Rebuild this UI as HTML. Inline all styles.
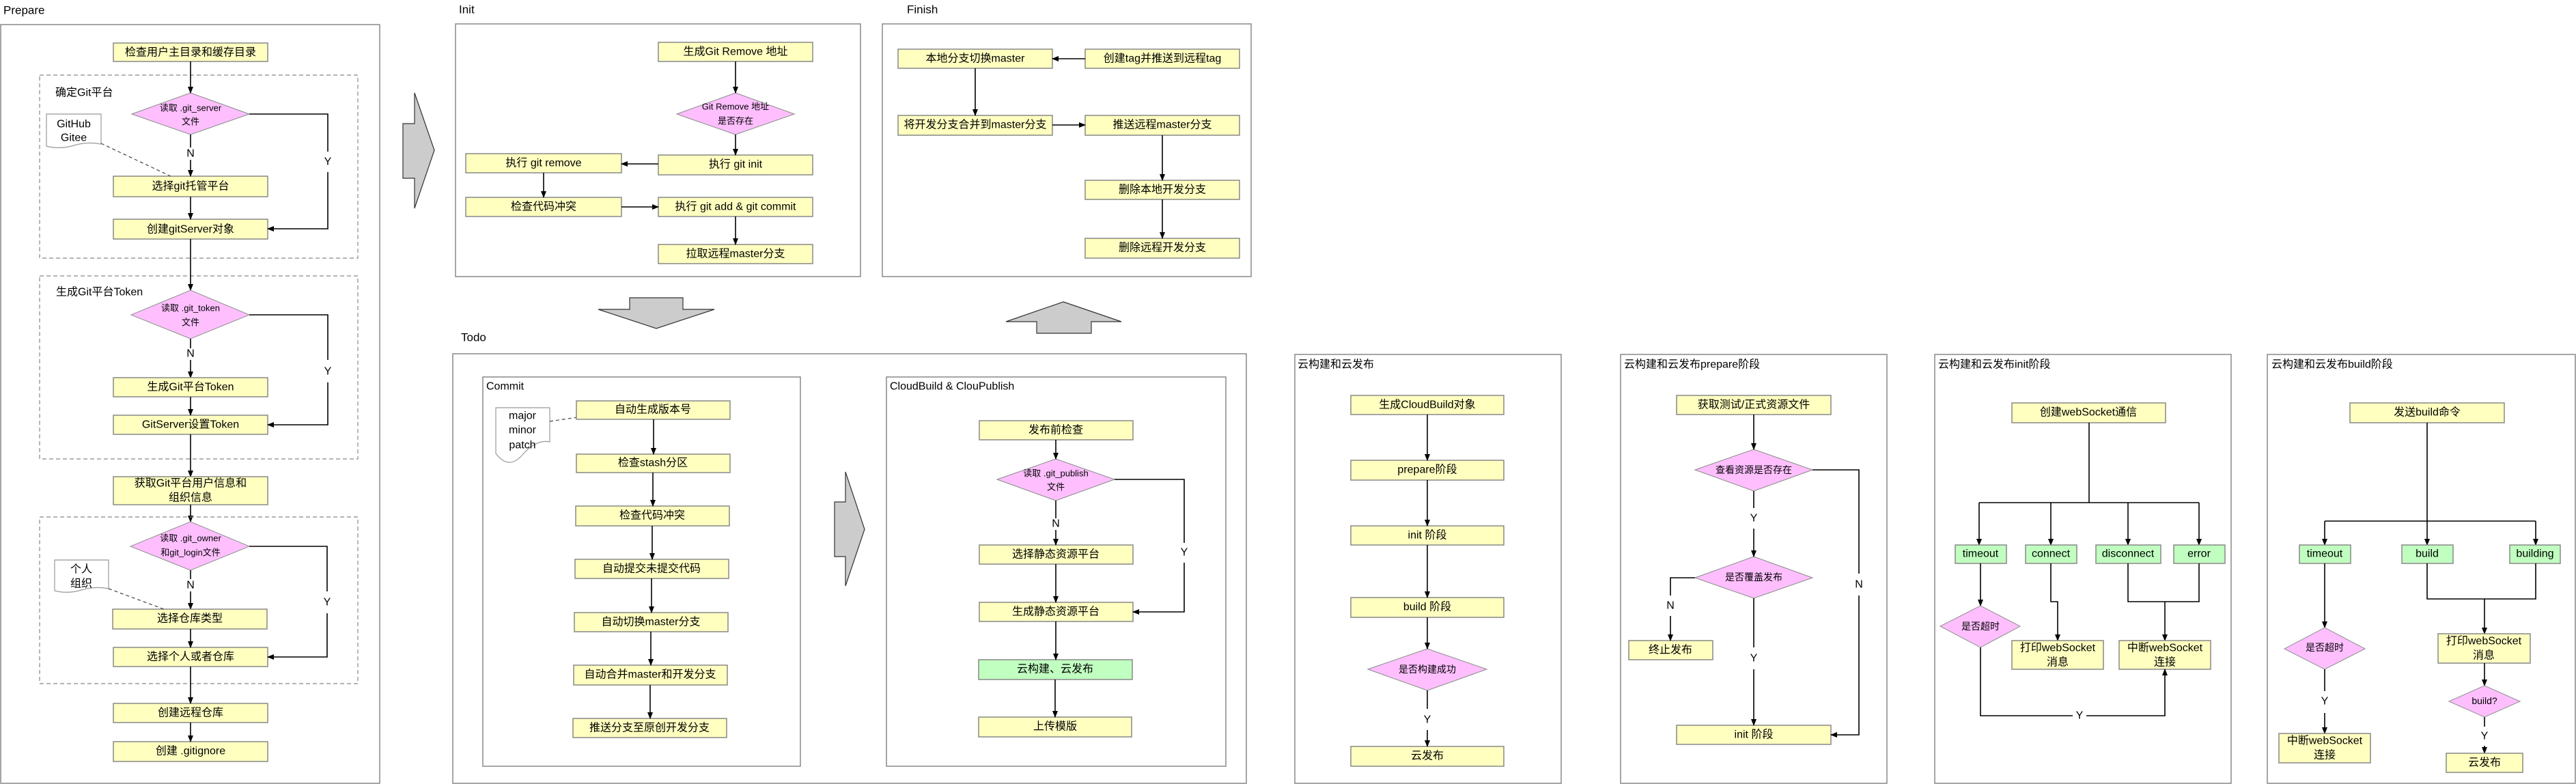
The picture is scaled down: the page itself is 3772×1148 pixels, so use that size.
<!DOCTYPE html>
<html><head><meta charset="utf-8"><style>
html,body{margin:0;padding:0;background:#fff;}
svg{display:block;}
text{font-family:"Liberation Sans","Noto Sans CJK SC",sans-serif;fill:#000;}
.t{font-size:16px;text-anchor:middle;dominant-baseline:central;}
.s{font-size:13px;text-anchor:middle;dominant-baseline:central;}
.h{font-size:17px;dominant-baseline:central;}
.y{fill:#ffffc0;stroke:#888;stroke-width:1.5;}
.g{fill:#c0ffc0;stroke:#888;stroke-width:1.5;}
.p{fill:#ffbfff;stroke:#999;stroke-width:1.2;}
.f{fill:none;stroke:#888;stroke-width:1.5;}
.d{fill:none;stroke:#888;stroke-width:1.2;stroke-dasharray:6 4;}
.l{fill:none;stroke:#000;stroke-width:1.6;}
.a{fill:none;stroke:#000;stroke-width:1.6;marker-end:url(#ah);}
.dl{fill:none;stroke:#444;stroke-width:1.2;stroke-dasharray:5 4;}
.big{fill:#cccccc;stroke:#333;stroke-width:1.2;}
.n{fill:#fff;stroke:#999;stroke-width:1.2;}
</style></head><body>
<svg width="3772" height="1148" viewBox="0 0 3772 1148" xmlns="http://www.w3.org/2000/svg">
<defs><marker id="ah" markerWidth="10" markerHeight="10" refX="9" refY="5" orient="auto" markerUnits="userSpaceOnUse"><path d="M0,1 L10,5 L0,9 Z" fill="#000"/></marker></defs>

<!-- ===== Prepare ===== -->
<text class="h" x="5" y="15">Prepare</text>
<rect class="f" x="1" y="36" width="555" height="1111"/>
<rect class="y" x="166" y="63" width="226" height="27"/><text class="t" x="279" y="77">检查用户主目录和缓存目录</text>
<rect class="d" x="58" y="110" width="466" height="268"/>
<text class="h" x="81" y="136" style="font-size:16px">确定Git平台</text>
<polygon class="p" points="193,167 279,136 365,167 279,197"/>
<text class="s" x="279" y="158">读取 .git_server</text><text class="s" x="279" y="178">文件</text>
<path class="n" d="M68,167 H148 V211 Q128,207 108,213 T68,214 Z"/>
<text class="t" x="108" y="182">GitHub</text><text class="t" x="108" y="202">Gitee</text>
<rect class="y" x="166" y="258" width="226" height="30"/><text class="t" x="279" y="273">选择git托管平台</text>
<rect class="y" x="166" y="321" width="226" height="29"/><text class="t" x="279" y="336">创建gitServer对象</text>
<path class="a" d="M279,90 V136"/>
<path class="l" d="M279,197 V216"/><text class="t" x="279" y="225">N</text><path class="a" d="M279,234 V258"/>
<path class="a" d="M279,288 V321"/>
<path class="l" d="M365,167 H480 V222"/><text class="t" x="480" y="237">Y</text><path class="a" d="M480,252 V335 H392"/>
<path class="dl" d="M148,210 L250,258"/>

<rect class="d" x="58" y="404" width="466" height="268"/>
<text class="h" x="82" y="428" style="font-size:16px">生成Git平台Token</text>
<path class="a" d="M279,350 V425"/>
<polygon class="p" points="192,461 279,425 365,461 279,496"/>
<text class="s" x="279" y="451">读取 .git_token</text><text class="s" x="279" y="472">文件</text>
<path class="l" d="M279,496 V510"/><text class="t" x="279" y="518">N</text><path class="a" d="M279,527 V553"/>
<rect class="y" x="166" y="553" width="226" height="28"/><text class="t" x="279" y="567">生成Git平台Token</text>
<rect class="y" x="166" y="608" width="226" height="28"/><text class="t" x="279" y="622">GitServer设置Token</text>
<path class="a" d="M279,581 V608"/>
<path class="l" d="M365,461 H480 V527"/><text class="t" x="480" y="544">Y</text><path class="a" d="M480,560 V622 H392"/>
<path class="a" d="M279,636 V698"/>
<rect class="y" x="166" y="698" width="226" height="41"/><text class="t" x="279" y="708">获取Git平台用户信息和</text><text class="t" x="279" y="729">组织信息</text>
<path class="a" d="M279,739 V764"/>

<rect class="d" x="58" y="757" width="466" height="244"/>
<polygon class="p" points="191,800 279,764 365,800 279,835"/>
<text class="s" x="279" y="788">读取 .git_owner</text><text class="s" x="279" y="809">和git_login文件</text>
<path class="n" d="M80,820 H159 V862 Q139,858 119,864 T80,865 Z"/>
<text class="t" x="119" y="834">个人</text><text class="t" x="119" y="855">组织</text>
<path class="l" d="M279,835 V848"/><text class="t" x="279" y="857">N</text><path class="a" d="M279,866 V892"/>
<rect class="y" x="165" y="892" width="226" height="29"/><text class="t" x="278" y="906">选择仓库类型</text>
<rect class="y" x="166" y="948" width="226" height="28"/><text class="t" x="279" y="962">选择个人或者仓库</text>
<path class="a" d="M279,921 V948"/>
<path class="l" d="M365,800 H479 V866"/><text class="t" x="479" y="882">Y</text><path class="a" d="M479,898 V962 H392"/>
<path class="dl" d="M159,862 L240,892"/>
<rect class="y" x="166" y="1030" width="226" height="28"/><text class="t" x="279" y="1044">创建远程仓库</text>
<rect class="y" x="166" y="1086" width="226" height="29"/><text class="t" x="279" y="1100">创建 .gitignore</text>
<path class="a" d="M279,976 V1030"/><path class="a" d="M279,1058 V1086"/>

<polygon class="big" points="590,181 607,181 607,136 636,220 607,305 607,261 590,261"/>

<!-- ===== Init ===== -->
<text class="h" x="672" y="14">Init</text>
<rect class="f" x="667" y="35" width="593" height="370"/>
<rect class="y" x="964" y="62" width="226" height="28"/><text class="t" x="1077" y="76">生成Git Remove 地址</text>
<polygon class="p" points="991,167 1077,136 1163,167 1077,197"/>
<text class="s" x="1077" y="156">Git Remove 地址</text><text class="s" x="1077" y="177">是否存在</text>
<rect class="y" x="964" y="227" width="226" height="29"/><text class="t" x="1077" y="241">执行 git  init</text>
<rect class="y" x="682" y="225" width="228" height="28"/><text class="t" x="796" y="239">执行 git  remove</text>
<rect class="y" x="682" y="289" width="228" height="28"/><text class="t" x="796" y="303">检查代码冲突</text>
<rect class="y" x="964" y="289" width="226" height="28"/><text class="t" x="1077" y="303">执行 git add &amp; git commit</text>
<rect class="y" x="964" y="358" width="226" height="28"/><text class="t" x="1077" y="372">拉取远程master分支</text>
<path class="a" d="M1077,90 V136"/><path class="a" d="M1077,197 V227"/>
<path class="a" d="M964,240 H910"/><path class="a" d="M796,253 V289"/>
<path class="a" d="M910,303 H964"/><path class="a" d="M1077,317 V358"/>

<!-- ===== Finish ===== -->
<text class="h" x="1328" y="14">Finish</text>
<rect class="f" x="1292" y="35" width="540" height="370"/>
<rect class="y" x="1315" y="72" width="226" height="28"/><text class="t" x="1428" y="86">本地分支切换master</text>
<rect class="y" x="1589" y="72" width="226" height="28"/><text class="t" x="1702" y="86">创建tag并推送到远程tag</text>
<rect class="y" x="1315" y="169" width="226" height="29"/><text class="t" x="1428" y="183">将开发分支合并到master分支</text>
<rect class="y" x="1589" y="169" width="226" height="29"/><text class="t" x="1702" y="183">推送远程master分支</text>
<rect class="y" x="1589" y="264" width="226" height="28"/><text class="t" x="1702" y="278">删除本地开发分支</text>
<rect class="y" x="1589" y="349" width="226" height="29"/><text class="t" x="1702" y="363">删除远程开发分支</text>
<path class="a" d="M1589,86 H1541"/><path class="a" d="M1428,100 V169"/>
<path class="a" d="M1541,183 H1589"/><path class="a" d="M1702,198 V264"/><path class="a" d="M1702,292 V349"/>

<polygon class="big" points="922,436 1000,436 1000,453 1046,453 961,481 876,453 922,453"/>
<polygon class="big" points="1557,442 1642,471 1598,471 1598,488 1518,488 1518,471 1473,471"/>

<!-- ===== Todo ===== -->
<text class="h" x="675" y="494">Todo</text>
<rect class="f" x="663" y="518" width="1162" height="629"/>
<rect class="f" x="707" y="552" width="465" height="570"/>
<text class="h" x="712" y="566" style="font-size:16px">Commit</text>
<path class="n" d="M726,597 H805 V647 Q785,643 765,666 T726,664 Z"/>
<text class="t" x="765" y="609">major</text><text class="t" x="765" y="630">minor</text><text class="t" x="765" y="652">patch</text>
<path class="dl" d="M805,617 L873,607"/>
<rect class="y" x="844" y="587" width="225" height="27"/><text class="t" x="956" y="600">自动生成版本号</text>
<rect class="y" x="844" y="665" width="225" height="27"/><text class="t" x="956" y="678">检查stash分区</text>
<rect class="y" x="843" y="741" width="225" height="29"/><text class="t" x="955" y="755">检查代码冲突</text>
<rect class="y" x="842" y="819" width="225" height="28"/><text class="t" x="954" y="833">自动提交未提交代码</text>
<rect class="y" x="841" y="897" width="225" height="28"/><text class="t" x="953" y="911">自动切换master分支</text>
<rect class="y" x="840" y="974" width="225" height="29"/><text class="t" x="952" y="988">自动合并master和开发分支</text>
<rect class="y" x="839" y="1052" width="225" height="28"/><text class="t" x="951" y="1066">推送分支至原创开发分支</text>
<path class="a" d="M957,614 V665"/><path class="a" d="M956,692 V741"/><path class="a" d="M955,770 V819"/>
<path class="a" d="M954,847 V897"/><path class="a" d="M953,925 V974"/><path class="a" d="M952,1003 V1052"/>

<polygon class="big" points="1222,735 1238,735 1238,691 1266,775 1238,858 1238,815 1222,815"/>

<rect class="f" x="1298" y="552" width="497" height="570"/>
<text class="h" x="1303" y="566" style="font-size:16px">CloudBuild &amp; ClouPublish</text>
<rect class="y" x="1434" y="616" width="225" height="28"/><text class="t" x="1546" y="630">发布前检查</text>
<polygon class="p" points="1460,702 1546,672 1632,702 1546,733"/>
<text class="s" x="1546" y="693">读取 .git_publish</text><text class="s" x="1546" y="713">文件</text>
<rect class="y" x="1434" y="798" width="225" height="28"/><text class="t" x="1546" y="812">选择静态资源平台</text>
<rect class="y" x="1434" y="882" width="225" height="28"/><text class="t" x="1546" y="896">生成静态资源平台</text>
<rect class="g" x="1433" y="966" width="225" height="29"/><text class="t" x="1545" y="980">云构建、云发布</text>
<rect class="y" x="1433" y="1050" width="224" height="29"/><text class="t" x="1545" y="1064">上传模版</text>
<path class="a" d="M1546,644 V672"/>
<path class="l" d="M1546,733 V759"/><text class="t" x="1546" y="767">N</text><path class="a" d="M1546,776 V798"/>
<path class="a" d="M1546,826 V882"/><path class="a" d="M1546,910 V966"/><path class="a" d="M1545,995 V1050"/>
<path class="l" d="M1632,702 H1734 V795"/><text class="t" x="1734" y="809">Y</text><path class="a" d="M1734,824 V896 H1659"/>

<!-- ===== 云构建和云发布 ===== -->
<rect class="f" x="1896" y="519" width="390" height="628"/>
<text class="h" x="1900" y="534" style="font-size:16px">云构建和云发布</text>
<rect class="y" x="1978" y="579" width="224" height="28"/><text class="t" x="2090" y="593">生成CloudBuild对象</text>
<rect class="y" x="1978" y="674" width="224" height="29"/><text class="t" x="2090" y="688">prepare阶段</text>
<rect class="y" x="1978" y="770" width="224" height="28"/><text class="t" x="2090" y="784">init 阶段</text>
<rect class="y" x="1978" y="875" width="224" height="29"/><text class="t" x="2090" y="889">build 阶段</text>
<polygon class="p" points="2003,980 2090,950 2177,980 2090,1011"/><text class="s" x="2090" y="980" style="font-size:14px">是否构建成功</text>
<rect class="y" x="1978" y="1093" width="224" height="29"/><text class="t" x="2090" y="1107">云发布</text>
<path class="a" d="M2090,607 V674"/><path class="a" d="M2090,703 V770"/><path class="a" d="M2090,798 V875"/><path class="a" d="M2090,904 V950"/>
<path class="l" d="M2090,1011 V1038"/><text class="t" x="2090" y="1054">Y</text><path class="a" d="M2090,1069 V1093"/>

<!-- ===== prepare阶段 ===== -->
<rect class="f" x="2373" y="519" width="390" height="628"/>
<text class="h" x="2378" y="534" style="font-size:16px">云构建和云发布prepare阶段</text>
<rect class="y" x="2455" y="579" width="226" height="28"/><text class="t" x="2568" y="593">获取测试/正式资源文件</text>
<polygon class="p" points="2482,688 2568,658 2654,688 2568,719"/><text class="s" x="2568" y="688" style="font-size:14px">查看资源是否存在</text>
<polygon class="p" points="2482,846 2568,815 2654,846 2568,876"/><text class="s" x="2568" y="845" style="font-size:14px">是否覆盖发布</text>
<rect class="y" x="2385" y="938" width="123" height="28"/><text class="t" x="2446" y="952">终止发布</text>
<rect class="y" x="2455" y="1062" width="226" height="28"/><text class="t" x="2568" y="1076">init 阶段</text>
<path class="a" d="M2568,607 V658"/>
<path class="l" d="M2568,719 V744"/><text class="t" x="2568" y="759">Y</text><path class="a" d="M2568,774 V815"/>
<path class="l" d="M2482,846 H2446 V872"/><text class="t" x="2446" y="887">N</text><path class="a" d="M2446,902 V938"/>
<path class="l" d="M2568,876 V948"/><text class="t" x="2568" y="964">Y</text><path class="a" d="M2568,980 V1062"/>
<path class="l" d="M2654,688 H2722 V840"/><text class="t" x="2722" y="856">N</text><path class="a" d="M2722,872 V1076 H2681"/>

<!-- ===== init阶段 ===== -->
<rect class="f" x="2833" y="519" width="434" height="628"/>
<text class="h" x="2838" y="534" style="font-size:16px">云构建和云发布init阶段</text>
<rect class="y" x="2946" y="590" width="225" height="29"/><text class="t" x="3058" y="604">创建webSocket通信</text>
<path class="l" d="M3059,619 V736"/><path class="l" d="M2898,736 H3220"/>
<path class="a" d="M2898,736 V798"/><path class="a" d="M3003,736 V798"/><path class="a" d="M3116,736 V798"/><path class="a" d="M3220,736 V798"/>
<rect class="g" x="2863" y="798" width="75" height="27"/><text class="t" x="2900" y="811">timeout</text>
<rect class="g" x="2966" y="798" width="75" height="27"/><text class="t" x="3003" y="811">connect</text>
<rect class="g" x="3069" y="798" width="95" height="27"/><text class="t" x="3116" y="811">disconnect</text>
<rect class="g" x="3183" y="798" width="75" height="27"/><text class="t" x="3220" y="811">error</text>
<path class="a" d="M2900,825 V887"/>
<polygon class="p" points="2841,917 2900,887 2958,917 2900,948"/><text class="s" x="2900" y="917" style="font-size:14px">是否超时</text>
<path class="a" d="M3003,825 V881 H3013 V938"/>
<path class="l" d="M3116,825 V881 H3220 V825"/><path class="a" d="M3170,881 V938"/>
<rect class="y" x="2946" y="938" width="134" height="42"/><text class="t" x="3013" y="949">打印webSocket</text><text class="t" x="3013" y="970">消息</text>
<rect class="y" x="3103" y="938" width="134" height="42"/><text class="t" x="3170" y="949">中断webSocket</text><text class="t" x="3170" y="970">连接</text>
<path class="l" d="M2900,948 V1048 H3035"/><text class="t" x="3045" y="1048">Y</text><path class="a" d="M3055,1048 H3170 V980"/>

<!-- ===== build阶段 ===== -->
<rect class="f" x="3320" y="519" width="451" height="628"/>
<text class="h" x="3326" y="534" style="font-size:16px">云构建和云发布build阶段</text>
<rect class="y" x="3441" y="590" width="226" height="29"/><text class="t" x="3554" y="604">发送build命令</text>
<path class="l" d="M3554,619 V763"/><path class="l" d="M3404,763 H3713"/>
<path class="a" d="M3404,763 V798"/><path class="a" d="M3554,763 V798"/><path class="a" d="M3713,763 V798"/>
<rect class="g" x="3367" y="798" width="75" height="27"/><text class="t" x="3404" y="811">timeout</text>
<rect class="g" x="3517" y="798" width="75" height="27"/><text class="t" x="3554" y="811">build</text>
<rect class="g" x="3675" y="798" width="74" height="27"/><text class="t" x="3712" y="811">building</text>
<path class="a" d="M3404,825 V919"/>
<polygon class="p" points="3345,950 3404,919 3463,950 3404,980"/><text class="s" x="3404" y="948" style="font-size:14px">是否超时</text>
<path class="l" d="M3554,825 V877 H3713 V825"/><path class="a" d="M3638,877 V928"/>
<rect class="y" x="3570" y="928" width="135" height="43"/><text class="t" x="3637" y="939">打印webSocket</text><text class="t" x="3637" y="960">消息</text>
<path class="a" d="M3638,971 V1004"/>
<polygon class="p" points="3586,1027 3638,1004 3690,1027 3638,1050"/><text class="s" x="3638" y="1026" style="font-size:14px">build?</text>
<path class="l" d="M3638,1050 V1064"/><text class="t" x="3638" y="1078">Y</text><path class="a" d="M3638,1092 V1103"/>
<rect class="y" x="3582" y="1103" width="112" height="28"/><text class="t" x="3638" y="1117">云发布</text>
<path class="l" d="M3404,980 V1012"/><text class="t" x="3404" y="1027">Y</text><path class="a" d="M3404,1044 V1074"/>
<rect class="y" x="3337" y="1074" width="134" height="43"/><text class="t" x="3404" y="1085">中断webSocket</text><text class="t" x="3404" y="1106">连接</text>
</svg>
</body></html>
